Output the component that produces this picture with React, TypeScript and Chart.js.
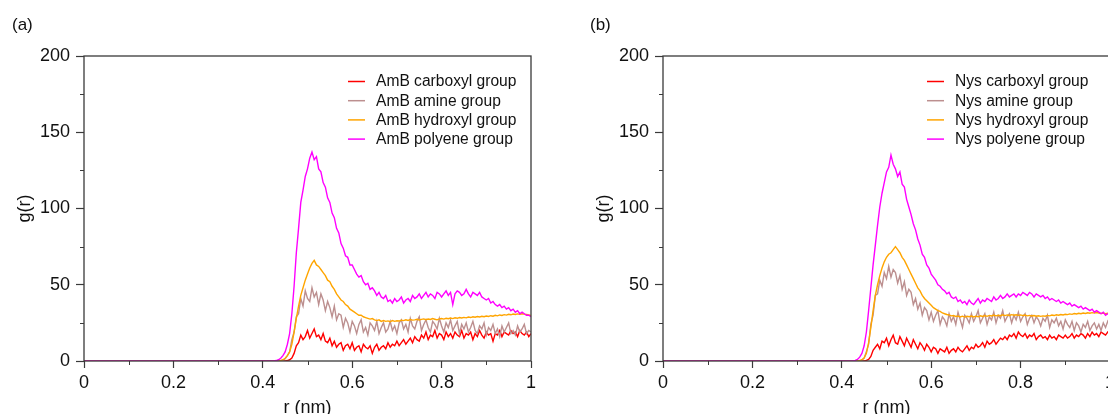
import React, { useEffect, useRef } from "react";
import { Chart, registerables } from "chart.js";

Chart.register(...registerables);

// Sampling grid of r (nm): first point at 0, then 0.42 ... 1.00
const rValues = [
  0,
  0.42, 0.425, 0.43, 0.435, 0.44, 0.445, 0.45, 0.455, 0.46, 0.465, 0.47, 0.475, 0.48, 0.485, 0.49, 0.495,
  0.5, 0.505, 0.51, 0.515, 0.52, 0.525, 0.53, 0.535, 0.54, 0.545, 0.55, 0.555, 0.56, 0.565, 0.57, 0.575, 0.58, 0.585, 0.59, 0.595,
  0.6, 0.605, 0.61, 0.615, 0.62, 0.625, 0.63, 0.635, 0.64, 0.645, 0.65, 0.655, 0.66, 0.665, 0.67, 0.675, 0.68, 0.685, 0.69, 0.695,
  0.7, 0.705, 0.71, 0.715, 0.72, 0.725, 0.73, 0.735, 0.74, 0.745, 0.75, 0.755, 0.76, 0.765, 0.77, 0.775, 0.78, 0.785, 0.79, 0.795,
  0.8, 0.805, 0.81, 0.815, 0.82, 0.825, 0.83, 0.835, 0.84, 0.845, 0.85, 0.855, 0.86, 0.865, 0.87, 0.875, 0.88, 0.885, 0.89, 0.895,
  0.9, 0.905, 0.91, 0.915, 0.92, 0.925, 0.93, 0.935, 0.94, 0.945, 0.95, 0.955, 0.96, 0.965, 0.97, 0.975, 0.98, 0.985, 0.99, 0.995, 1.0,
];

// ---- Panel (a): AmB ----
const ambCarboxyl = [
  0,
  0, 0, 0, 0, 0, 0, 0.1, 0.3, 0.8, 2, 5, 10, 12, 17, 14, 16,
  20, 15, 18, 21, 16, 17, 14, 18, 13, 12, 15, 10, 13, 9, 11, 12, 7, 10, 11, 8,
  12, 7, 9, 10, 6, 11, 9, 8, 10, 5, 9, 11, 7, 9, 10, 8, 12, 9, 11, 10,
  13, 10, 12, 14, 11, 13, 15, 12, 16, 14, 13, 17, 15, 19, 14, 17, 16, 20, 15, 18,
  17, 14, 19, 16, 18, 15, 19, 17, 16, 20, 15, 18, 17, 19, 14, 18, 16, 20, 17, 15,
  19, 17, 18, 13, 18, 17, 20, 16, 19, 18, 17, 20, 18, 19, 16, 20, 18, 17, 19, 16, 18,
];
const ambAmine = [
  0,
  0, 0, 0, 0, 0.2, 0.5, 1.5, 3.5, 6, 14, 19, 29, 31, 41, 36, 46,
  41, 39, 48, 42, 45, 37, 44, 40, 33, 39, 35, 29, 36, 27, 31, 30, 22, 28, 25, 19,
  26, 23, 18, 24, 27, 19, 22, 17, 25, 23, 20, 26, 18, 22, 25, 19, 21, 26, 20, 23,
  18, 25, 27, 21, 24, 19, 28, 23, 21, 26, 29, 20, 24, 27, 22, 19, 26, 24, 21, 28,
  23, 19, 25, 22, 27, 20, 23, 26, 18, 24, 21, 25, 19, 22, 26, 20, 18, 23, 21, 25,
  17, 22, 20, 24, 18, 21, 16, 23, 19, 22, 25, 18, 20, 17, 23, 19, 21, 24, 18, 20, 19,
];
const ambHydroxyl = [
  0,
  0, 0, 0, 0.1, 0.3, 0.8, 1.8, 3.5, 6, 11, 19, 28, 36, 43, 48, 53,
  57, 61, 64, 66, 63, 62, 60, 58, 56, 53, 52, 49, 47, 44, 42, 40, 39, 37, 36, 34,
  33, 32, 31, 30, 30, 29, 28.5, 28, 27.5, 27.8, 27, 26.5, 27, 26, 26.5, 26, 26.3, 25.8, 26.5, 26,
  26.4, 26.2, 26.8, 26.5, 27, 26.6, 27.2, 26.8, 27, 27.4, 26.9, 27.3, 27.6, 27.1, 27.5, 27.2, 27.8, 27.4, 27, 27.6,
  27.9, 27.5, 28, 27.7, 28.2, 27.8, 28.3, 28, 28.5, 28.2, 28.6, 28.3, 28.8, 28.5, 29, 28.7, 29.2, 28.9, 29.3, 29,
  29.5, 29.2, 29.7, 29.4, 30, 29.6, 30.2, 29.9, 30.4, 30.1, 30.6, 30.3, 30.8, 30.5, 30.9, 30.6, 31, 30.7, 30.5, 30.2, 29.8,
];
const ambPolyene = [
  0,
  0, 0, 0.3, 0.8, 1.8, 3.5, 6, 11, 18, 31, 49, 71, 87, 104, 112, 121,
  126, 133, 137, 132, 134, 126, 124, 117, 114, 107, 104, 97, 94, 87, 84, 77, 74, 69, 68, 63,
  63, 60, 57, 55, 56, 52, 50, 51, 47, 48, 46, 43, 45, 42, 41, 43, 39, 40, 38, 41,
  39, 40, 42, 38, 40, 41, 39, 43, 41, 42, 44, 41, 43, 45, 42, 44, 43, 41, 45, 44,
  42, 44, 46, 43, 45, 37, 44, 46, 45, 43, 44, 47, 44, 42, 45, 44, 43, 45, 42, 41,
  40, 41, 38, 39, 37, 36, 37, 35, 36, 34, 35, 33, 34, 32, 33, 31, 32, 31, 30, 30, 29,
];

// ---- Panel (b): Nys ----
const nysCarboxyl = [
  0,
  0, 0, 0, 0, 0, 0, 0.1, 0.4, 1, 3, 7, 9, 11, 8, 13, 12,
  15, 10, 14, 17, 12, 11, 16, 13, 10, 15, 12, 9, 14, 11, 8, 12, 10, 7, 11, 9,
  6, 9, 8, 5, 8, 7, 6, 9, 5, 7, 8, 6, 9, 7, 6, 8, 10, 7, 9, 8,
  11, 9, 10, 12, 9, 13, 11, 12, 14, 11, 13, 15, 14, 16, 14, 17, 16, 18, 15, 19,
  17, 16, 18, 15, 17, 16, 18, 14, 16, 17, 15, 16, 14, 17, 15, 16, 14, 17, 16, 15,
  17, 15, 16, 18, 15, 17, 16, 18, 17, 15, 18, 16, 19, 17, 18, 16, 19, 18, 17, 19, 18,
];
const nysAmine = [
  0,
  0, 0, 0, 0, 0.2, 0.6, 2, 6, 11, 24, 30, 43, 44, 53, 49, 58,
  54, 62, 55, 60, 58, 51, 56, 47, 52, 43, 47, 45, 37, 41, 34, 38, 30, 35, 33, 27,
  32, 26, 30, 33, 24, 29, 27, 23, 31, 26, 29, 24, 32, 27, 22, 30, 28, 25, 31, 26,
  29, 33, 25, 28, 31, 24, 29, 27, 32, 25, 30, 28, 33, 26, 29, 31, 25, 30, 27, 32,
  26, 29, 31, 24, 28, 30, 25, 29, 27, 23, 28, 26, 30, 22, 27, 25, 28, 23, 26, 21,
  27, 24, 22, 26, 20, 25, 23, 19, 24, 22, 26, 20, 23, 25, 21, 24, 20, 25, 22, 26, 23,
];
const nysHydroxyl = [
  0,
  0, 0, 0, 0.1, 0.3, 0.8, 2, 5, 12, 22, 33, 43, 50, 56, 61, 65,
  68, 70, 71, 73, 75, 73, 71, 68, 66, 63, 60, 57, 54, 51, 48, 46, 43, 41, 39.5, 38,
  36.5, 35, 34, 33, 32.5, 31.5, 31, 30.5, 30.2, 29.6, 29.8, 29.2, 29.5, 28.9, 29.4, 28.8, 29.3, 29, 29.5, 28.9,
  29.4, 29, 29.6, 29.2, 29.8, 29.3, 29.9, 29.5, 30.1, 29.6, 30, 29.7, 30.3, 29.8, 30.2, 29.9, 30.4, 30, 30.3, 29.9,
  30.2, 29.8, 30.1, 29.6, 29.9, 29.5, 29.8, 29.4, 29.7, 29.3, 29.6, 29.4, 29.9, 29.6, 30.1, 29.8, 30.3, 30, 30.5, 30.2,
  30.6, 30.4, 30.9, 30.6, 31.1, 30.8, 31.3, 31, 31.5, 31.2, 31.6, 31.3, 31.7, 31.4, 31.8, 31.5, 31.2, 31.4, 31, 31.3, 31,
];
const nysPolyene = [
  0,
  0, 0.1, 0.4, 1, 2.5, 5, 10, 19, 33, 48, 63, 76, 89, 101, 110, 117,
  124, 127, 135, 129, 126, 121, 124, 116, 114, 106, 101, 96, 90, 86, 80, 76, 70, 68, 63, 61,
  57, 55, 53, 50, 49, 47, 46, 44, 45, 42, 41, 42, 39, 40, 38, 39, 37, 40, 38, 37,
  39, 41, 38, 40, 39, 41, 40, 39, 42, 40, 41, 43, 41, 42, 44, 42, 43, 44, 42, 44,
  43, 45, 44, 43, 45, 44, 42, 44, 43, 42, 43, 41, 42, 40, 41, 40, 39, 40, 38, 39,
  38, 37, 38, 36, 37, 36, 35, 36, 34, 35, 34, 33, 34, 32, 33, 32, 31, 32, 30, 31, 31,
];

const seriesColors = ["#ff0000", "#bc8f8f", "#ffa500", "#ff00ff"];
const ambLabels = ["AmB carboxyl group", "AmB amine group", "AmB hydroxyl group", "AmB polyene group"];
const nysLabels = ["Nys carboxyl group", "Nys amine group", "Nys hydroxyl group", "Nys polyene group"];
const xTicks = [0, 0.2, 0.4, 0.6, 0.8, 1];
const xMinorTicks = [0.1, 0.3, 0.5, 0.7, 0.9];
const yMinorTicks = [25, 75, 125, 175];

const FONT = "'Liberation Sans', Arial, Helvetica, sans-serif";
const LINE_COLOR = "#3a3a3a";

function makeConfig(series: number[][], labels: string[]) {
  const datasets = series.map((vals, k) => ({
    label: labels[k],
    data: vals.map((v, i) => ({ x: rValues[i], y: v })),
    borderColor: seriesColors[k],
    backgroundColor: seriesColors[k],
    borderWidth: 1.4,
    pointRadius: 0,
    tension: 0,
    fill: false,
    order: 4 - k,
  }));

  const framePlugin = {
    id: "frameAndLegend",
    afterDatasetsDraw(chart: any) {
      const { ctx, chartArea } = chart;
      const xs = chart.scales.x;
      const ys = chart.scales.y;
      ctx.save();
      ctx.strokeStyle = LINE_COLOR;
      ctx.lineWidth = 1.3;
      ctx.strokeRect(chartArea.left, chartArea.top, chartArea.right - chartArea.left, chartArea.bottom - chartArea.top);
      // minor ticks
      ctx.lineWidth = 1;
      ctx.beginPath();
      xMinorTicks.forEach((v) => {
        const px = Math.round(xs.getPixelForValue(v)) + 0.5;
        ctx.moveTo(px, chartArea.bottom);
        ctx.lineTo(px, chartArea.bottom + 4);
      });
      yMinorTicks.forEach((v) => {
        const py = Math.round(ys.getPixelForValue(v)) + 0.5;
        ctx.moveTo(chartArea.left, py);
        ctx.lineTo(chartArea.left - 4, py);
      });
      ctx.stroke();
      // legend
      const lx = chartArea.left + 264;
      const ly = chartArea.top + 25.5;
      ctx.font = `15.6px ${FONT}`;
      ctx.textBaseline = "middle";
      ctx.textAlign = "left";
      labels.forEach((lab, k) => {
        const y = ly + k * 19.2;
        ctx.strokeStyle = seriesColors[k];
        ctx.lineWidth = 1.5;
        ctx.beginPath();
        ctx.moveTo(lx, y);
        ctx.lineTo(lx + 17, y);
        ctx.stroke();
        ctx.fillStyle = "#111";
        ctx.fillText(lab, lx + 28, y + 0.5);
      });
      ctx.restore();
    },
  };

  return {
    type: "line" as const,
    data: { datasets },
    plugins: [framePlugin],
    options: {
      responsive: false,
      animation: false as const,
      devicePixelRatio: 1,
      layout: { padding: { top: 56, right: 29, left: 0, bottom: 0 } },
      plugins: { legend: { display: false }, tooltip: { enabled: false } },
      scales: {
        x: {
          type: "linear" as const,
          min: 0,
          max: 1,
          afterFit: (s: any) => {
            s.height = 63;
          },
          afterBuildTicks: (s: any) => {
            s.ticks = xTicks.map((v) => ({ value: v }));
          },
          ticks: {
            autoSkip: false,
            maxRotation: 0,
            padding: 4,
            color: "#111",
            font: { family: FONT, size: 18 },
            callback: (v: any) => String(Number(Number(v).toFixed(1))),
          },
          grid: { drawOnChartArea: false, drawTicks: true, tickLength: 7, tickColor: LINE_COLOR, tickWidth: 1.2 },
          border: { display: false },
          title: {
            display: true,
            text: "r (nm)",
            color: "#111",
            font: { family: FONT, size: 18 },
            padding: { top: 0, bottom: 5 },
          },
        },
        y: {
          type: "linear" as const,
          min: 0,
          max: 200,
          afterFit: (s: any) => {
            s.width = 84;
          },
          ticks: {
            stepSize: 50,
            padding: 6,
            color: "#111",
            font: { family: FONT, size: 18 },
          },
          grid: { drawOnChartArea: false, drawTicks: true, tickLength: 8, tickColor: LINE_COLOR, tickWidth: 1.2 },
          border: { display: false },
          title: {
            display: true,
            text: "g(r)",
            color: "#111",
            font: { family: FONT, size: 18 },
            padding: { top: 14, bottom: 0 },
          },
        },
      },
    },
  };
}

function Panel(props: { series: number[][]; labels: string[]; left: number; tag: string }) {
  const ref = useRef<HTMLCanvasElement | null>(null);
  useEffect(() => {
    if (!ref.current) return;
    const chart = new Chart(ref.current, makeConfig(props.series, props.labels) as any);
    return () => chart.destroy();
  }, []);
  return (
    <div style={{ position: "absolute", left: props.left, top: 0, width: 560, height: 424 }}>
      <canvas ref={ref} width={560} height={424} style={{ width: 560, height: 424, display: "block" }} />
      <div
        style={{
          position: "absolute",
          left: props.tag === "(a)" ? 12 : 11,
          top: 15,
          font: `17px ${FONT}`,
          color: "#111",
          lineHeight: "20px",
        }}
      >
        {props.tag}
      </div>
    </div>
  );
}

export default function App() {
  return (
    <div
      style={{
        position: "fixed",
        left: 0,
        top: 0,
        width: 1108,
        height: 414,
        overflow: "hidden",
        background: "#fff",
      }}
    >
      <Panel series={[ambCarboxyl, ambAmine, ambHydroxyl, ambPolyene]} labels={ambLabels} left={0} tag="(a)" />
      <Panel series={[nysCarboxyl, nysAmine, nysHydroxyl, nysPolyene]} labels={nysLabels} left={579} tag="(b)" />
    </div>
  );
}
